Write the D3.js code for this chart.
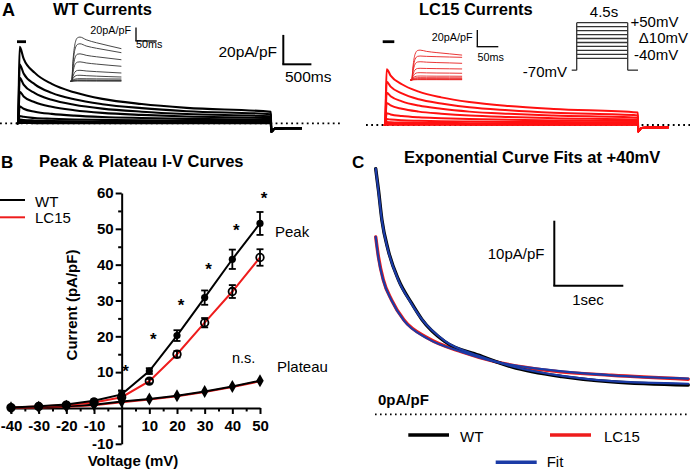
<!DOCTYPE html>
<html><head><meta charset="utf-8">
<script src="https://cdn.jsdelivr.net/npm/d3@7"></script>
<style>body{margin:0;background:#fff} svg{display:block;font-family:"Liberation Sans",Arial,sans-serif}</style>
</head><body><svg id="c" width="690" height="472"></svg>
<script>
// ---------- Panel B data (I-V curves) ----------
const ivVoltages = [-40,-30,-20,-10,0,10,20,30,40,50];
const wtPeak     = [0.1,0.5,1.0,2.0,3.8,10.3,20.2,30.8,41.5,51.5];
const wtPeakErr  = [0.2,0.2,0.3,0.4,1.0,0.8,1.5,2.0,2.7,3.2];
const lcPeak     = [0.1,0.4,0.8,1.5,3.0,7.5,15.0,23.8,32.5,42.0];
const lcPeakErr  = [0.2,0.2,0.2,0.3,0.5,0.6,0.9,1.3,1.8,2.3];
const wtPlateau  = [0.05,0.25,0.5,0.9,1.8,2.5,3.4,4.6,6.0,7.6];
const lcPlateau  = [0.0,0.15,0.35,0.75,1.6,2.35,3.25,4.45,5.85,7.45];
const sigVoltages = [0,10,20,30,40,50];
const sigLevels   = [11.2,20.0,29.7,39.7,50.6,59.5];
const yTickLabels = [-10,10,20,30,40,50,60];
const xTickLabels = [-40,-30,-20,-10,10,20,30,40,50];

// ---------- Panel A data (current traces, pA/pF vs s) ----------
const traceTimes = [0,0.03,0.1,0.3,0.6,1.0,1.5,2.2,3.0,4.5];
const wtTraces = [
 [0,52.0,44.0,34.3,26.8,21.1,16.6,13.1,10.5,7.8],
 [0,40.0,33.9,26.5,20.7,16.3,13.0,10.3,8.2,6.2],
 [0,31.0,26.3,20.5,16.0,12.6,10.0,7.9,6.3,4.7],
 [0,21.5,18.3,14.3,11.2,8.9,7.1,5.7,4.6,3.5],
 [0,11.5,9.9,7.9,6.4,5.2,4.3,3.6,3.0,2.5],
 [0,5.0,4.4,3.6,3.1,2.6,2.3,2.0,1.8,1.6],
 [0,2.5,2.2,1.9,1.6,1.4,1.2,1.1,1.0,0.9],
 [0,1.2,1.1,0.9,0.8,0.7,0.6,0.6,0.5,0.5],
 [0,0.5,0.45,0.4,0.35,0.3,0.25,0.2,0.2,0.2],
 [0,0.2,0.2,0.15,0.15,0.1,0.1,0.1,0.1,0.1]
];
const lcTraces = [
 [0,38.0,33.6,27.7,22.7,18.8,15.6,12.9,10.9,8.5],
 [0,29.5,26.1,21.5,17.5,14.6,12.0,10.0,8.3,6.5],
 [0,22.0,19.5,16.1,13.2,11.0,9.1,7.6,6.4,5.0],
 [0,15.0,13.3,11.0,9.1,7.7,6.4,5.4,4.6,3.7],
 [0,8.0,7.2,6.1,5.2,4.6,4.0,3.5,3.1,2.7],
 [0,4.0,3.7,3.2,2.9,2.6,2.3,2.1,2.0,1.8],
 [0,2.0,1.85,1.65,1.5,1.35,1.25,1.15,1.1,1.0],
 [0,1.0,0.95,0.85,0.75,0.7,0.6,0.55,0.5,0.5],
 [0,0.5,0.45,0.4,0.35,0.3,0.25,0.2,0.2,0.2],
 [0,0.2,0.2,0.15,0.15,0.1,0.1,0.1,0.1,0.1]
];
const tailTimes = [4.505,4.56,4.75,5.05];
const wtTail = [-5.7,-3.8,-3.4,-3.3];
const lcTail = [-4.5,-2.0,-1.7,-1.6];

// insets (ms)
const insetTimes = [-3,0,3,8,14,20,35,60,90,120];
const wtInset = [
 [0,0,30,56,65,66,62,57.5,53,48.7],
 [0,0,25,48,55,56,52.7,49.3,46,42.7],
 [0,0,18,35,40.5,41,38.8,36.6,34.4,32.2],
 [0,0,13,25,28.6,29,27.4,25.7,24,22.4],
 [0,0,7,14,16.2,16.4,15.4,14.4,13.4,12.4],
 [0,0,4,7.7,8.9,9,8.4,7.7,7,6.4],
 [0,0,1.8,3.3,3.8,3.9,3.8,3.6,3.5,3.4],
 [0,0,1,1.7,2,2,1.9,1.7,1.6,1.5],
 [0,0,0.5,0.9,1,1,0.95,0.9,0.85,0.8],
 [0,0,0.2,0.4,0.5,0.5,0.45,0.4,0.35,0.3]
];
const lcInset = [
 [0,0,16,31,35.5,36,34.5,33,31.5,30],
 [0,0,13,25,28.5,28.9,28.5,28.1,27.7,27.3],
 [0,0,10,19,21.7,22,21.5,21,20.6,20.1],
 [0,0,6.3,12.2,13.9,14.1,13.9,13.7,13.5,13.3],
 [0,0,4,7.6,8.7,8.8,8.6,8.4,8.3,8.1],
 [0,0,2.2,4.1,4.7,4.8,4.7,4.6,4.6,4.5],
 [0,0,1.3,2.4,2.8,2.8,2.75,2.7,2.65,2.6],
 [0,0,0.7,1.4,1.6,1.6,1.6,1.55,1.5,1.5],
 [0,0,0.4,0.8,0.9,0.9,0.9,0.9,0.85,0.85],
 [0,0,0.2,0.3,0.4,0.4,0.4,0.4,0.35,0.35]
];
// voltage protocol
const protocolSteps = [-40,-30,-20,-10,0,10,20,30,40,50];
const holdingV = -70;

// ---------- Panel C data (+40 mV traces) ----------
const cWtTimes = [0,0.04,0.09,0.18,0.33,0.52,0.67,1.0,1.49,1.97,2.7,3.42,4.53];
const cWt      = [37.8,34.5,29.9,25.3,20.7,17.1,14.6,11.2,9.1,7.3,5.8,5.0,4.5];
const cWtFit   = [37.8,34.3,29.8,25.2,20.6,17.0,14.6,11.3,9.0,7.4,5.9,5.1,4.7];
const cLcTimes = [0,0.04,0.11,0.23,0.41,0.76,1.25,1.73,2.45,3.42,4.53];
const cLc      = [27.3,24.2,20.7,17.6,14.5,11.7,9.6,8.1,6.8,6.0,5.4];
const cLcFit   = [27.3,24.0,20.6,17.5,14.4,11.6,9.6,8.1,6.9,6.0,5.5];

const RED = "#ee1c1c", BLUE = "#1b3ba6";
const svg = d3.select("#c");
svg.append("rect").attr("width",690).attr("height",472).attr("fill","#fff");

function txt(x,y,s,o={}) {
  return svg.append("text").attr("x",x).attr("y",y).text(s)
    .attr("font-size",o.size||15).attr("font-weight",o.bold?"bold":"normal")
    .attr("text-anchor",o.anchor||"start").attr("fill",o.fill||"#000");
}
function seg(x1,y1,x2,y2,w,c,dash) {
  const l = svg.append("line").attr("x1",x1).attr("y1",y1).attr("x2",x2).attr("y2",y2)
    .attr("stroke",c||"#000").attr("stroke-width",w||2);
  if (dash) l.attr("stroke-dasharray",dash);
  return l;
}
const pairs = (ts, vs) => ts.map((t,i)=>[t, vs[i]]);

// ================= Panel A =================
txt(2,16,"A",{size:18,bold:true});
txt(53,15,"WT Currents",{size:16.5,bold:true});
txt(419,15,"LC15 Currents",{size:16.5,bold:true});

function drawTraces(traces, tail, x0, y0, color, w) {
  const xs = d3.scaleLinear().domain([0,4.5]).range([x0, x0+4.5*56.2]);
  const ys = d3.scaleLinear().domain([0,20]).range([y0, y0-29.4]);
  const line = d3.line().x(d=>xs(d[0])).y(d=>ys(d[1])).curve(d3.curveMonotoneX);
  traces.slice().reverse().forEach(tr => {
    const pts = [[-0.02,0]].concat(pairs(traceTimes, tr), pairs(tailTimes, tail));
    svg.append("path").attr("d", line(pts)).attr("fill","none")
      .attr("stroke",color).attr("stroke-width",w).attr("stroke-linejoin","round");
  });
  return {xs, ys};
}
function drawInset(traces, x0, y0, kx, ky, color) {
  const xs = d3.scaleLinear().domain([0,50]).range([x0, x0+50*kx]);
  const ys = d3.scaleLinear().domain([0,20]).range([y0, y0-20*ky]);
  const line = d3.line().x(d=>xs(d[0])).y(d=>ys(d[1])).curve(d3.curveMonotoneX);
  traces.forEach(tr => {
    svg.append("path").attr("d", line(pairs(insetTimes, tr))).attr("fill","none")
      .attr("stroke",color).attr("stroke-width",0.9);
  });
  return {xs, ys};
}

// baselines (dotted)
seg(0,123.3,340,123.3,1.8,"#000","1.8,3.4");
seg(366,125,690,125,1.8,"#000","1.8,3.4");

// WT main
const wtA = drawTraces(wtTraces, wtTail, 18, 123.3, "#000", 2.1);
{
  const bx = 283.3, by = 64.3;
  const v = wtA.ys(0) - wtA.ys(20), h = wtA.xs(0.5) - wtA.xs(0);
  seg(bx, by - v, bx, by, 2); seg(bx-1, by, bx + h, by, 2);
  txt(277,57,"20pA/pF",{size:15.5,anchor:"end"});
  txt(285,81.5,"500ms",{size:15.5});
}
seg(17,41.7,26,41.7,2.8);
const wtI = drawInset(wtInset, 71.7, 81.3, 0.414, 0.67, "#333");
{
  const bx = 136, by = 41;
  const v = wtI.ys(0) - wtI.ys(20), h = wtI.xs(50) - wtI.xs(0);
  seg(bx, by - v, bx, by, 1.3); seg(bx-0.6, by, bx + h, by, 1.3);
  txt(131,34.3,"20pA/pF",{size:10.8,anchor:"end"});
  txt(136,47.5,"50ms",{size:10.8});
}

// LC15 main
drawTraces(lcTraces, lcTail, 385, 125, "#ff1010", 2);
seg(382.7,41.7,394.3,41.7,2.8);
const lcI = drawInset(lcInset, 411.7, 80, 0.42, 0.83, "#e82020");
{
  const bx = 477.3, by = 46.7;
  const v = lcI.ys(0) - lcI.ys(20), h = lcI.xs(50) - lcI.xs(0);
  seg(bx, by - v, bx, by, 1.3); seg(bx-0.6, by, bx + h, by, 1.3);
  txt(472.5,40.7,"20pA/pF",{size:10.8,anchor:"end"});
  txt(477.5,60.5,"50ms",{size:10.8});
}

// Voltage protocol
{
  const vx = d3.scaleLinear().domain([0,4.5]).range([576.7,627.7]);
  const vy = d3.scaleLinear().domain([-40,50]).range([58.3,22.7]);
  const c = "#333", w = 1.3;
  seg(vx(-0.44), vy(holdingV), vx(0), vy(holdingV), w, c);
  seg(vx(0), vy(holdingV), vx(0), vy(d3.max(protocolSteps)), w, c);
  protocolSteps.forEach(v => seg(vx(0), vy(v), vx(4.5), vy(v), w, c));
  seg(vx(4.5), vy(holdingV), vx(4.5), vy(d3.max(protocolSteps)), w, c);
  seg(vx(4.5), vy(holdingV), vx(5.41), vy(holdingV), w, c);
  txt(604,16.7,"4.5s",{size:15,anchor:"middle"});
  txt(630.5,26.5,"+50mV",{size:15});
  txt(688,43.3,"Δ10mV",{size:15,anchor:"end"});
  txt(634,59.5,"-40mV",{size:15});
  txt(567,76.5,"-70mV",{size:15,anchor:"end"});
}

// ================= Panel B =================
txt(1,168,"B",{size:17,bold:true});
txt(39,167,"Peak & Plateau I-V Curves",{size:16.5,bold:true});

const bx = d3.scaleLinear().domain([-40,50]).range([11,260]);
const by = d3.scaleLinear().domain([-10,60]).range([443.8,193]);
const fmt = d => String(d);

function styleAxis(g) {
  g.selectAll("path.domain").attr("stroke","#000").attr("stroke-width",2);
  g.selectAll(".tick line").attr("stroke","#000").attr("stroke-width",2);
  g.selectAll(".tick text").attr("font-size",15).attr("font-weight","bold")
    .attr("font-family","'Liberation Sans', Arial, sans-serif").attr("fill","#000");
}
const gy = svg.append("g").attr("transform",`translate(${bx(0)},0)`)
  .call(d3.axisLeft(by).tickValues(yTickLabels).tickFormat(fmt).tickSize(6).tickSizeOuter(0).tickPadding(2));
styleAxis(gy);
const gym = svg.append("g").attr("transform",`translate(${bx(0)},0)`)
  .call(d3.axisLeft(by).tickValues([-5,5,15,25,35,45,55]).tickSize(3.5).tickFormat(""));
gym.select("path.domain").remove(); styleAxis(gym);
const gx = svg.append("g").attr("transform",`translate(0,${by(0)})`)
  .call(d3.axisBottom(bx).tickValues(xTickLabels).tickFormat(fmt).tickSize(6).tickSizeOuter(0).tickPadding(6));
styleAxis(gx);
const gxm = svg.append("g").attr("transform",`translate(0,${by(0)})`)
  .call(d3.axisBottom(bx).tickValues([-35,-25,-15,-5,5,15,25,35,45]).tickSize(3.5).tickFormat(""));
gxm.select("path.domain").remove(); styleAxis(gxm);

svg.append("text").attr("transform",`translate(77,305) rotate(-90)`).attr("text-anchor","middle")
  .attr("font-size",15).attr("font-weight","bold").text("Current (pA/pF)");
txt(133,466,"Voltage (mV)",{size:15,bold:true,anchor:"middle"});

const ivLine = d3.line().x(d=>bx(d[0])).y(d=>by(d[1]));
function ivPath(vals, color, w) {
  svg.append("path").attr("d", ivLine(pairs(ivVoltages, vals))).attr("fill","none")
    .attr("stroke",color).attr("stroke-width",w);
}
ivPath(lcPlateau, RED, 2);
ivPath(wtPlateau, "#000", 2);
ivPath(lcPeak, RED, 2);
ivPath(wtPeak, "#000", 2);
function errBars(vals, errs) {
  ivVoltages.forEach((v,i) => {
    const x = bx(v);
    seg(x, by(vals[i]-errs[i]), x, by(vals[i]+errs[i]), 1.8);
    seg(x-3.5, by(vals[i]+errs[i]), x+3.5, by(vals[i]+errs[i]), 1.8);
    seg(x-3.5, by(vals[i]-errs[i]), x+3.5, by(vals[i]-errs[i]), 1.8);
  });
}
errBars(wtPeak, wtPeakErr);
errBars(lcPeak, lcPeakErr);
const diamond = d3.symbol().type(d3.symbolDiamond).size(48);
ivVoltages.forEach((v,i) => {
  svg.append("path").attr("d", diamond()).attr("transform",`translate(${bx(v)},${by(wtPlateau[i])})`).attr("fill","#000");
});
ivVoltages.forEach((v,i) => {
  svg.append("circle").attr("cx",bx(v)).attr("cy",by(lcPeak[i])).attr("r",3.8)
    .attr("fill","none").attr("stroke","#000").attr("stroke-width",1.8);
  svg.append("circle").attr("cx",bx(v)).attr("cy",by(wtPeak[i])).attr("r",3.6).attr("fill","#000");
});
sigVoltages.forEach((v,i) => {
  txt(bx(v)+4, by(sigLevels[i])+9, "*", {size:17, bold:true, anchor:"middle"});
});
txt(275,236.7,"Peak",{size:15});
txt(277,371.7,"Plateau",{size:15});
txt(232,363.3,"n.s.",{size:14.5});
seg(0,200,25,200,2,"#000"); txt(35,206.5,"WT",{size:15});
seg(0,217.3,25,217.3,2,RED); txt(35,223.3,"LC15",{size:15});

// ================= Panel C =================
txt(352,168,"C",{size:17,bold:true});
txt(404,163,"Exponential Curve Fits at +40mV",{size:16.5,bold:true});
const cx = d3.scaleLinear().domain([0,4.5]).range([375.7,375.7+4.5*69]);
const cy = d3.scaleLinear().domain([0,10]).range([414.3,414.3-65]);
const cLine = d3.line().x(d=>cx(d[0])).y(d=>cy(d[1])).curve(d3.curveMonotoneX);
seg(375,414.3,690,414.3,1.8,"#000","1.6,3.4");
txt(378,405,"0pA/pF",{size:15,bold:true});
function cPath(ts, vs, color, w) {
  svg.append("path").attr("d", cLine(pairs(ts, vs))).attr("fill","none")
    .attr("stroke",color).attr("stroke-width",w).attr("stroke-linecap","round");
}
cPath(cLcTimes, cLc, RED, 3.4);
cPath(cWtTimes, cWt, "#000", 3.4);
cPath(cLcTimes, cLcFit, BLUE, 2.2);
cPath(cWtTimes, cWtFit, BLUE, 2.2);
{
  const sx = 554.3, sy = 285.7;
  const v = cy(0) - cy(10), h = cx(1) - cx(0);
  seg(sx, sy - v, sx, sy, 2); seg(sx-1, sy, sx + h, sy, 2);
  txt(544.5,259,"10pA/pF",{size:15,anchor:"end"});
  txt(588,305,"1sec",{size:15,anchor:"middle"});
}
seg(408.3,435,449,435,3.5,"#000"); txt(460,441.5,"WT",{size:15});
seg(550,435,591,435,3.5,RED); txt(604,441.5,"LC15",{size:15});
seg(495.7,462.3,536.7,462.3,3.5,BLUE); txt(546.7,466.7,"Fit",{size:15});
</script></body></html>
